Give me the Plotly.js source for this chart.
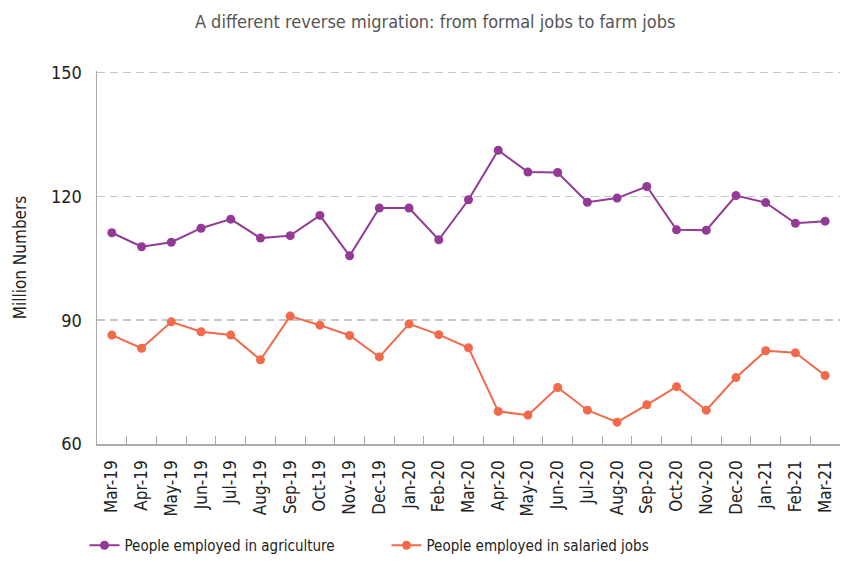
<!DOCTYPE html>
<html>
<head>
<meta charset="utf-8">
<script src="https://cdn.plot.ly/plotly-3.0.1.min.js"></script>
<style>html,body{margin:0;padding:0;background:#fff;}#chart{width:845px;height:562px;}</style>
</head>
<body>
<div id="chart"></div>
<script>
const months = ["Mar-19","Apr-19","May-19","Jun-19","Jul-19","Aug-19","Sep-19","Oct-19","Nov-19","Dec-19","Jan-20","Feb-20","Mar-20","Apr-20","May-20","Jun-20","Jul-20","Aug-20","Sep-20","Oct-20","Nov-20","Dec-20","Jan-21","Feb-21","Mar-21"];
const agriculture = [111.2,107.8,108.9,112.3,114.5,109.9,110.5,115.4,105.6,117.2,117.2,109.5,119.2,131.2,125.9,125.8,118.6,119.6,122.4,111.9,111.8,120.2,118.5,113.5,114.0];
const salaried = [86.4,83.2,89.6,87.2,86.4,80.4,91.0,88.8,86.3,81.1,89.1,86.5,83.3,67.9,67.0,73.7,68.2,65.3,69.5,73.9,68.2,76.1,82.6,82.1,76.6];
const yTicks = [60,90,120,150];

const FONT = "'DejaVu Sans Condensed', 'Liberation Sans Narrow', sans-serif";
const traces = [
  {x: months, y: agriculture, name: "People employed in agriculture", type: "scatter", mode: "lines+markers",
   line: {color: "#933a97", width: 2}, marker: {color: "#933a97", size: 9}},
  {x: months, y: salaried, name: "People employed in salaried jobs", type: "scatter", mode: "lines+markers",
   line: {color: "#f26a4b", width: 2}, marker: {color: "#f26a4b", size: 9}}
];
const layout = {
  width: 845, height: 562,
  margin: {l: 97, r: 5, t: 71, b: 118},
  paper_bgcolor: "#fff", plot_bgcolor: "#fff",
  font: {family: FONT, color: "#222", size: 16},
  title: {text: "A different reverse migration: from formal jobs to farm jobs", x: 0.515, xanchor: "center", y: 0.962, yanchor: "middle",
          font: {family: FONT, size: 18, color: "#555"}},
  showlegend: true,
  legend: {orientation: "h", x: 0.1, xanchor: "left", y: -0.006, yanchor: "bottom", xref: "container", yref: "container",
           font: {family: FONT, size: 15, color: "#222"}, traceorder: "normal", entrywidth: 257},
  xaxis: {type: "category", tickson: "boundaries", ticks: "inside", ticklen: 8, tickcolor: "#aaa",
          showline: true, linecolor: "#aaa", linewidth: 1.5, showgrid: false, tickangle: -90,
          tickfont: {family: FONT, size: 17, color: "#222"}, ticklabelstandoff: 8, range: [-0.5, 24.5]},
  yaxis: {range: [60, 150.4], tickvals: yTicks, ticks: "", showline: true, linecolor: "#aaa", linewidth: 1.5,
          showgrid: true, gridcolor: "#c8c8c8", griddash: "8px,5px", gridwidth: 1.5, zeroline: false,
          tickfont: {family: FONT, size: 18, color: "#222"}, ticklabelstandoff: 10,
          title: {text: "Million Numbers", font: {family: FONT, size: 17, color: "#222"}, standoff: 20}}
};
Plotly.newPlot("chart", traces, layout, {displayModeBar: false, staticPlot: true});
</script>
</body>
</html>
